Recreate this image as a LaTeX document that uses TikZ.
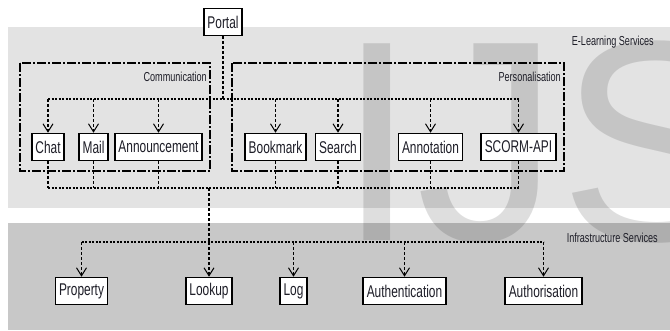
\documentclass[tikz,border=0pt]{standalone}
\usepackage{fontspec}
\setmainfont{Liberation Sans}[FakeStretch=0.7]
\newfontfamily\wmfont{Liberation Sans}
\usetikzlibrary{arrows.meta}
\definecolor{bandlight}{HTML}{E3E3E3}
\definecolor{banddark}{HTML}{C8C8C8}
\definecolor{inktext}{HTML}{1E1E28}
\tikzset{
  svc/.style={draw=black, line width=1.6pt, fill=white, inner xsep=3.5pt, inner ysep=0pt,
    minimum height=27pt, font=\fontsize{17}{17}\selectfont, text=inktext},
  grp/.style={draw=black, line width=1.3pt, dash pattern=on 9pt off 2pt on 2pt off 2pt},
  grplabel/.style={font=\fontsize{13}{13}\selectfont, text=inktext, inner sep=0pt},
  hbus/.style={line width=1.3pt, dash pattern=on 2.2pt off 1.3pt},
  vbus/.style={line width=1.3pt, dash pattern=on 3pt off 2pt},
  tip/.style={-{Straight Barb[length=8pt,width=10pt,line width=1pt]}},
}
\begin{document}
\begin{tikzpicture}[x=1pt,y=-1pt]
\useasboundingbox (0,0) rectangle (670,330);

% service layers
\fill[bandlight] (8,27) rectangle (670,208);
\fill[banddark] (8,223) rectangle (670,330);
\node[font=\wmfont\fontsize{286}{286}\selectfont, text=black, text opacity=0.13,
  anchor=base west, inner sep=0pt] (wm) at (337,240) {IJS};

\node[grplabel, anchor=east] (elearn) at (654,42) {E-Learning Services};
\node[grplabel, anchor=east] (infra) at (658,238) {Infrastructure Services};

% groups
\draw[grp] (20,63) rectangle (210,171);
\draw[grp] (232,63) rectangle (564,171);
\node[grplabel, anchor=east] (comm) at (207,77) {Communication};
\node[grplabel, anchor=east] (pers) at (561,77) {Personalisation};

% services
\node[svc] (portal) at (223,22) {Portal};
\node[svc] (chat) at (48,147) {Chat};
\node[svc] (mail) at (93.5,147) {Mail};
\node[svc] (ann) at (158.5,147) {Announcement};
\node[svc] (book) at (275.5,147) {Bookmark};
\node[svc] (search) at (338,147) {Search};
\node[svc] (annot) at (430.5,147) {Annotation};
\node[svc] (scorm) at (518.5,147) {SCORM-API};

\node[svc] (prop) at (81.5,291) {Property};
\node[svc] (look) at (209,291) {Lookup};
\node[svc] (log) at (293.5,291) {Log};
\node[svc] (auth) at (404.5,291) {Authentication};
\node[svc] (authz) at (543.5,291) {Authorisation};

% portal to the e-learning services
\coordinate (topbus) at (223,99);
\draw[vbus] (portal.south) -- (topbus);
\foreach \n in {chat,mail,ann,book,search,annot,scorm}
  \coordinate (t-\n) at (\n.north |- topbus);
\draw[hbus] (t-chat) -- (t-scorm);
\foreach \n in {chat,mail,ann,book,search,annot,scorm}
  \draw[vbus,tip] (t-\n) -- (\n.north);

% e-learning services to the infrastructure
\coordinate (midbus) at (209,188);
\foreach \n in {chat,mail,ann,book,search,annot,scorm}{
  \coordinate (m-\n) at (\n.south |- midbus);
  \draw[vbus] (\n.south) -- (m-\n);
}
\draw[hbus] (m-chat) -- (m-scorm);
\coordinate (lowbus) at (209,242);
\draw[vbus] (midbus) -- (lowbus);
\foreach \n in {prop,look,log,auth,authz}
  \coordinate (l-\n) at (\n.north |- lowbus);
\draw[hbus] (l-prop) -- (l-authz);
\foreach \n in {prop,look,log,auth,authz}
  \draw[vbus,tip] (l-\n) -- (\n.north);
\end{tikzpicture}
\end{document}
